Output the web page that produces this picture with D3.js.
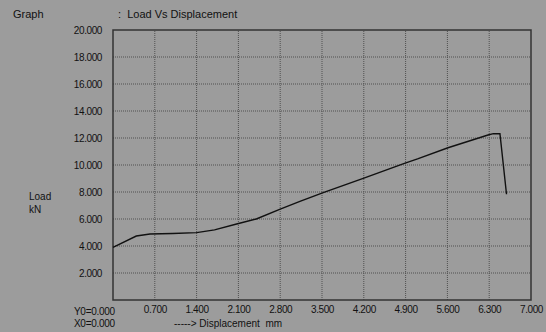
<!DOCTYPE html>
<html>
<head>
<meta charset="utf-8">
<script src="https://cdn.jsdelivr.net/npm/d3@7"></script>
<style>
  body { margin: 0; background: #9c9c9c; }
  svg text { font-family: "Liberation Sans", Arial, sans-serif; fill: #111; white-space: pre; }
</style>
</head>
<body>
<div id="chart"></div>
<script>
// values
var displacement = [0, 0.39, 0.62, 1.00, 1.40, 1.70, 2.07, 2.40, 2.79, 3.13, 3.52, 4.19, 4.88, 5.10, 5.61, 6.28, 6.37, 6.48, 6.59];
var load = [3.9, 4.74, 4.89, 4.93, 4.99, 5.19, 5.63, 6.0, 6.72, 7.3, 7.95, 9.01, 10.12, 10.45, 11.28, 12.22, 12.32, 12.32, 7.83];
var xTicks = [0.7, 1.4, 2.1, 2.8, 3.5, 4.2, 4.9, 5.6, 6.3, 7.0];
var yTicks = [2, 4, 6, 8, 10, 12, 14, 16, 18, 20];

var w = 546, h = 332;
var margin = { top: 30, right: 15, bottom: 32, left: 113 };

var svg = d3.select("#chart").append("svg")
    .attr("width", w)
    .attr("height", h);

svg.append("rect").attr("width", w).attr("height", h).attr("fill", "#9c9c9c");

var x = d3.scaleLinear().domain([0, 7]).range([margin.left, w - margin.right]);
var y = d3.scaleLinear().domain([0, 20]).range([h - margin.bottom, margin.top]);

// grid
svg.append("g").selectAll("line.vg")
    .data(xTicks.slice(0, -1))
    .enter().append("line")
    .attr("x1", function (d) { return x(d); })
    .attr("x2", function (d) { return x(d); })
    .attr("y1", y(0)).attr("y2", y(20))
    .attr("stroke", "#505050").attr("stroke-dasharray", "1,1");

svg.append("g").selectAll("line.hg")
    .data(yTicks.slice(0, -1))
    .enter().append("line")
    .attr("x1", x(0)).attr("x2", x(7))
    .attr("y1", function (d) { return y(d); })
    .attr("y2", function (d) { return y(d); })
    .attr("stroke", "#505050").attr("stroke-dasharray", "1,1");

// axes labels
var gy = svg.append("g")
    .attr("transform", "translate(" + margin.left + ",0)")
    .call(d3.axisLeft(y).tickValues(yTicks).tickSize(0).tickPadding(11)
        .tickFormat(function (d) { return d3.format(".3f")(d); }));
gy.select(".domain").remove();
gy.selectAll("text").attr("fill", "#111").style("font-size", "10px")
    .style("font-family", "Liberation Sans, Arial, sans-serif").attr("letter-spacing", "-0.4");

var gx = svg.append("g")
    .attr("transform", "translate(0," + (h - margin.bottom) + ")")
    .call(d3.axisBottom(x).tickValues(xTicks).tickSize(0).tickPadding(6)
        .tickFormat(function (d) { return d3.format(".3f")(d); }));
gx.select(".domain").remove();
gx.selectAll("text").attr("fill", "#111").style("font-size", "10px")
    .style("font-family", "Liberation Sans, Arial, sans-serif").attr("letter-spacing", "-0.4");

// frame
svg.append("rect")
    .attr("x", x(0)).attr("y", y(20))
    .attr("width", x(7) - x(0)).attr("height", y(0) - y(20))
    .attr("fill", "none").attr("stroke", "#333").attr("stroke-width", 1.5);

// curve
var line = d3.line()
    .x(function (d, i) { return x(displacement[i]); })
    .y(function (d) { return y(d); });

svg.append("path")
    .datum(load)
    .attr("d", line)
    .attr("fill", "none")
    .attr("stroke", "#111")
    .attr("stroke-width", 1.4);

// texts
svg.append("text").attr("x", 13).attr("y", 18).style("font-size", "11px").text("Graph");
svg.append("text").attr("x", 118).attr("y", 18).style("font-size", "11px").text(":  Load Vs Displacement");
svg.append("text").attr("x", 29).attr("y", 200).style("font-size", "10px").text("Load");
svg.append("text").attr("x", 29).attr("y", 213).style("font-size", "10px").text("kN");
svg.append("text").attr("x", 74).attr("y", 315).style("font-size", "10px").attr("letter-spacing", "-0.3").text("Y0=0.000");
svg.append("text").attr("x", 74).attr("y", 327).style("font-size", "10px").attr("letter-spacing", "-0.3").text("X0=0.000");
svg.append("text").attr("x", 174).attr("y", 327).style("font-size", "10px").text("-----> Displacement  mm");
</script>
</body>
</html>
